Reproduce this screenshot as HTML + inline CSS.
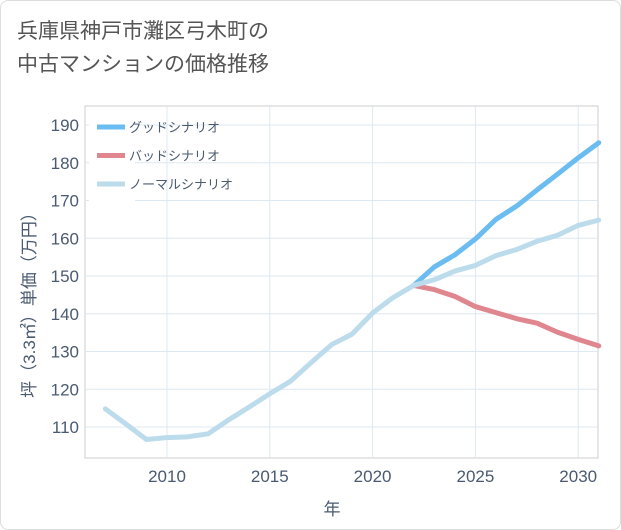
<!DOCTYPE html>
<html><head><meta charset="utf-8"><style>
body{margin:0;background:#fff;}
#wrap{position:relative;width:619px;height:528px;border:1px solid #ddd;border-radius:8px;overflow:hidden;font-family:"Liberation Sans","Noto Sans CJK JP",sans-serif;}
.title{position:absolute;left:16px;top:14px;font-size:21px;line-height:33px;color:#555;}
</style></head><body>
<div id="wrap">
<div class="title">兵庫県神戸市灘区弓木町の<br>中古マンションの価格推移</div>
<svg id="chart" width="621" height="530" style="position:absolute;left:0;top:0"></svg>
</div>
<script>
const years=[2007,2008,2009,2010,2011,2012,2013,2014,2015,2016,2017,2018,2019,2020,2021,2022];
const base=[114.8,110.8,106.7,107.2,107.4,108.2,111.9,115.3,118.8,122.1,127,131.8,134.6,140.2,144.3,147.5];
const futYears=[2022,2023,2024,2025,2026,2027,2028,2029,2030,2031];
const good=[147.5,152.4,155.6,159.8,165,168.5,172.8,177,181.3,185.3];
const bad=[147.5,146.4,144.6,141.9,140.3,138.7,137.5,135.1,133.2,131.5];
const normal=[147.5,149,151.3,152.8,155.4,157,159.2,160.8,163.4,164.8];
const yTicks=[110,120,130,140,150,160,170,180,190];
const xTicks=[2010,2015,2020,2025,2030];
const legendLabels=["グッドシナリオ","バッドシナリオ","ノーマルシナリオ"];
const colors=["#6bbcf0","#e0868f","#bcdcec"];
const L=84,R=597,T=105,B=457;
const x=v=>166+(v-2010)*20.56;
const y=v=>426-(v-110)*3.775;
const svg=document.getElementById('chart');
const NS="http://www.w3.org/2000/svg";
function mk(t,a){const e=document.createElementNS(NS,t);for(const k in a)e.setAttribute(k,a[k]);svg.appendChild(e);return e;}
let e;
e=mk('rect',{x:L,y:T,width:R-L,height:B-T,fill:'#fff',stroke:'#ccc'});


yTicks.forEach(v=>{
 e=mk('line',{x1:L,x2:R,y1:y(v),y2:y(v),stroke:'#dde8f0'});
 
 
 e=mk('text',{x:L-6,y:y(v)+6,'text-anchor':'end','font-size':17,fill:'#4a5a70'});e.textContent=v;
 
 
});
xTicks.forEach(v=>{
 e=mk('line',{x1:x(v),x2:x(v),y1:T,y2:B,stroke:'#dde8f0'});
 
 
 e=mk('text',{x:x(v),y:B+24,'text-anchor':'middle','font-size':17,fill:'#4a5a70'});e.textContent=v;
 
 
});
e=mk('text',{x:331,y:514,'text-anchor':'middle','font-size':17,fill:'#4a5a70'});e.textContent='年';


e=mk('text',{x:0,y:0,transform:'translate(34,300) rotate(-90)','text-anchor':'middle','font-size':17,fill:'#4a5a70'});e.textContent='坪（3.3㎡）単価（万円）';


function line(xs,vs,c,n){
 e=mk('polyline',{points:xs.map((a,i)=>x(a)+','+y(vs[i])).join(' '),fill:'none',stroke:c,'stroke-width':5,'stroke-linejoin':'round','stroke-linecap':'round'});
 
 
}
line(futYears,good,colors[0],'good-scenario-line');
line(futYears,bad,colors[1],'bad-scenario-line');
line(futYears,normal,colors[2],'normal-scenario-line');
line(years,base,colors[2],'historical-line');
e=mk('rect',{x:88,y:112,width:46,height:92,fill:'#fff'});


legendLabels.forEach((s,i)=>{
 const ly=126+i*28.5;
 e=mk('line',{x1:96,x2:124,y1:ly,y2:ly,stroke:colors[i],'stroke-width':5});
 
 
 e=mk('text',{x:128,y:ly+5,'font-size':13,fill:'#4a5a70'});e.textContent=s;
 
 
});
</script>
</body></html>
